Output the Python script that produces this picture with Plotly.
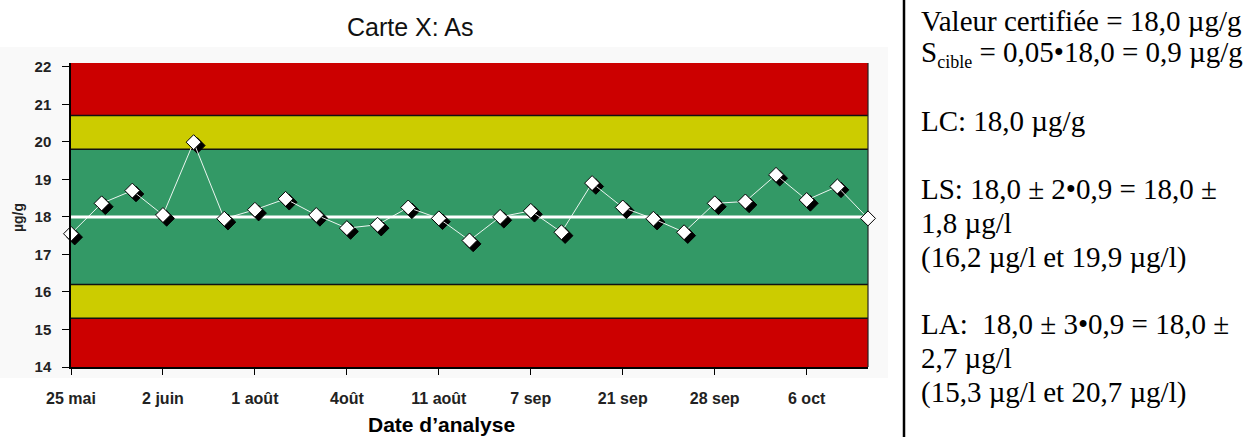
import plotly.graph_objects as go

# ---- data ----
tick_labels = ["25 mai", "2 juin", "1 août", "4oût", "11 août", "7 sep", "21 sep", "28 sep", "6 oct"]
values = [17.55, 18.36, 18.70, 18.05, 19.99, 17.95, 18.19, 18.48, 18.05,
          17.70, 17.79, 18.25, 17.96, 17.37, 18.00, 18.16, 17.59, 18.90,
          18.25, 17.95, 17.59, 18.36, 18.41, 19.12, 18.45, 18.81, 17.96]
center_line = 18.0
warn_limits = [16.2, 19.8]
action_limits = [15.3, 20.7]
y_min, y_max = 14.0, 22.1

panel_lines = [
    "Valeur certifiée = 18,0 µg/g",
    "S<sub><span style='font-size:18px'>cible</span></sub> = 0,05•18,0 = 0,9 µg/g",
    "LC: 18,0 µg/g",
    "LS: 18,0 ± 2•0,9 = 18,0 ±",
    "1,8 µg/l",
    "(16,2 µg/l et 19,9 µg/l)",
    "LA:  18,0 ± 3•0,9 = 18,0 ±",
    "2,7 µg/l",
    "(15,3 µg/l et 20,7 µg/l)",
]
panel_baselines = [31, 63, 130, 198, 232, 267, 333, 367, 402]

# ---- geometry ----
W, H = 1248, 437
L, R, T, B = 71, 868, 63, 367
idx = list(range(len(values)))
tick_idx = idx[::3]


def px(x):
    return (x - L) / (R - L)


def py(y):
    return (B - y) / (B - T)


fig = go.Figure()

# shadow markers (offset from data)
fig.add_trace(go.Scatter(
    x=[i + 0.12 for i in idx], y=[v - 0.09 for v in values],
    mode="markers", marker=dict(symbol="diamond", size=12, color="black",
                                line=dict(color="black", width=1)),
    cliponaxis=False, hoverinfo="skip", showlegend=False))
fig.add_trace(go.Scatter(
    x=idx, y=values, mode="lines+markers",
    line=dict(color="rgba(255,255,255,0.9)", width=1),
    marker=dict(symbol="diamond", size=11.5, color="white",
                line=dict(color="black", width=1)),
    cliponaxis=False, showlegend=False))

shapes = []
shapes.append(dict(type="rect", xref="paper", yref="paper", x0=px(0), x1=px(888),
                   y0=py(378), y1=py(47), fillcolor="#f9f9f9", line_width=0, layer="below"))
bands = [
    (action_limits[1], y_max, "#cc0000"),
    (warn_limits[1], action_limits[1], "#cccc00"),
    (warn_limits[0], warn_limits[1], "#339966"),
    (action_limits[0], warn_limits[0], "#cccc00"),
    (y_min, action_limits[0], "#cc0000"),
]
for y0, y1, c in bands:
    shapes.append(dict(type="rect", xref="paper", yref="y", x0=0, x1=1, y0=y0, y1=y1,
                       fillcolor=c, line_width=0, layer="below"))
for yl in warn_limits + action_limits:
    shapes.append(dict(type="line", xref="paper", yref="y", x0=0, x1=1, y0=yl, y1=yl,
                       line=dict(color="#111111", width=1.5), layer="below"))
shapes.append(dict(type="line", xref="paper", yref="y", x0=0, x1=1, y0=center_line, y1=center_line,
                   line=dict(color="white", width=3), layer="below"))
shapes.append(dict(type="line", xref="paper", yref="paper", x0=1, x1=1, y0=0, y1=1,
                   line=dict(color="#222222", width=1.2), layer="below"))
shapes.append(dict(type="line", xref="paper", yref="paper", x0=px(904), x1=px(904),
                   y0=py(0), y1=py(437), line=dict(color="black", width=2.5)))

annotations = [
    dict(text="Carte X: As", xref="paper", yref="paper", x=px(410), y=py(27),
         showarrow=False, font=dict(family="Arial, Liberation Sans", size=25, color="#111111"),
         xanchor="center", yanchor="middle"),
    dict(text="Date d’analyse", xref="paper", yref="paper", x=px(441), y=py(424),
         showarrow=False, font=dict(family="Arial, Liberation Sans", size=21, color="black", weight="bold"),
         xanchor="center", yanchor="middle"),
    dict(text="µg/g", xref="paper", yref="paper", x=px(18), y=py(218), textangle=-90,
         showarrow=False, font=dict(family="Arial, Liberation Sans", size=14, color="#222222", weight="bold"),
         xanchor="center", yanchor="middle"),
]
for txt, base in zip(panel_lines, panel_baselines):
    annotations.append(dict(text=txt, xref="paper", yref="paper", x=px(919), y=py(base - 9.5),
                            showarrow=False, xanchor="left", yanchor="middle",
                            font=dict(family="Liberation Serif, Times New Roman", size=29, color="black")))

fig.update_layout(
    width=W, height=H,
    margin=dict(l=L, r=W - R, t=T, b=H - B, pad=0),
    paper_bgcolor="white", plot_bgcolor="white",
    shapes=shapes, annotations=annotations, showlegend=False,
    xaxis=dict(range=[0, len(values) - 1], tickmode="array", tickvals=tick_idx, ticktext=tick_labels,
               showgrid=False, zeroline=False, showline=True, linecolor="black", linewidth=1.5,
               ticks="outside", ticklen=6, tickcolor="black", ticklabelstandoff=10, automargin=False,
               tickfont=dict(family="Arial, Liberation Sans", size=16, color="#222222", weight="bold")),
    yaxis=dict(range=[y_min, y_max], tickmode="linear", tick0=14, dtick=1,
               showgrid=False, zeroline=False, showline=True, linecolor="black", linewidth=1.5,
               ticks="outside", ticklen=7, tickcolor="black", ticklabelstandoff=8, automargin=False,
               tickfont=dict(family="Arial, Liberation Sans", size=15, color="#222222", weight="bold")),
)

fig.write_html("out.html", config={"displayModeBar": False},
               post_script="document.body.style.margin='0';document.body.style.overflow='hidden';")
